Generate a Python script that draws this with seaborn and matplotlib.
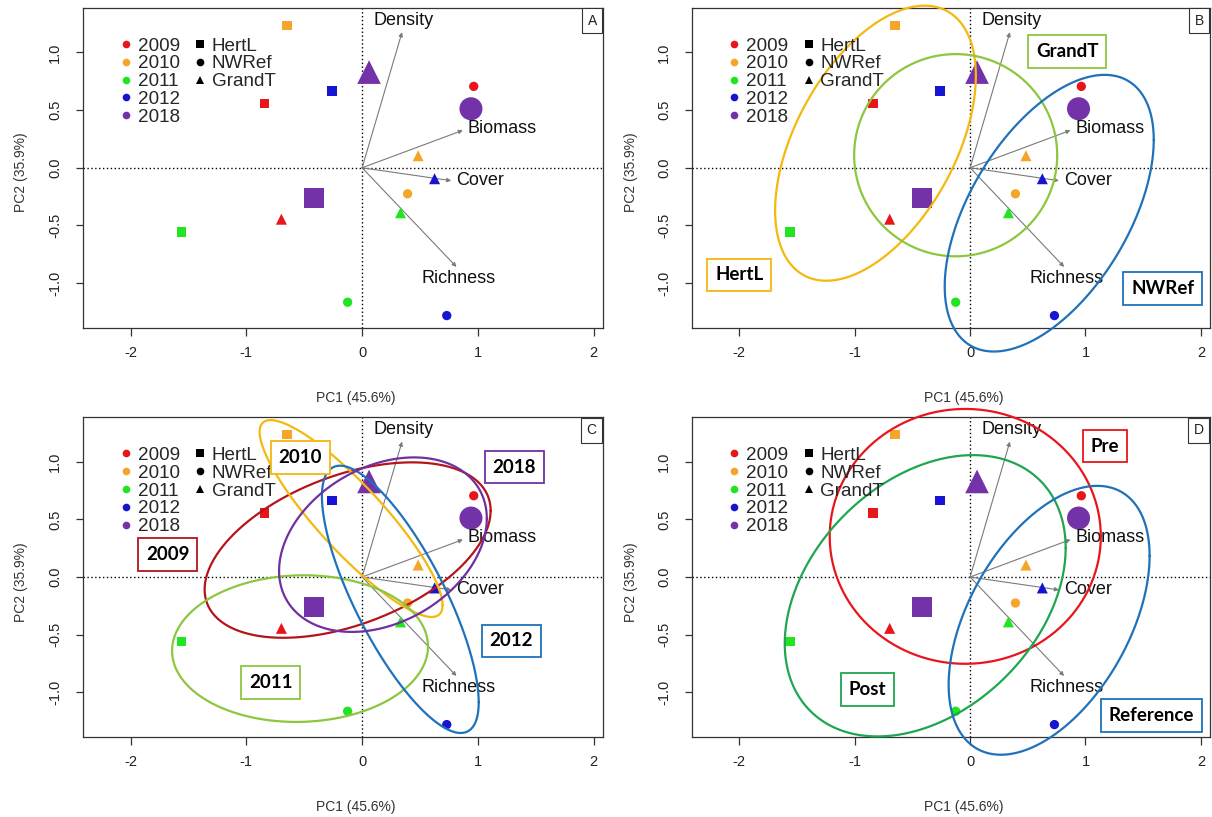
import numpy as np
import pandas as pd
import matplotlib
matplotlib.use("Agg")
import matplotlib.pyplot as plt
from matplotlib.lines import Line2D
import seaborn as sns

sns.set_theme(style="white")
plt.rcParams["font.family"] = ["Liberation Sans", "DejaVu Sans"]
plt.rcParams["axes.unicode_minus"] = False

# ---- PCA site scores -------------------------------------------------------
sites = ["HertL", "NWRef", "GrandT"]
years = ["2009", "2010", "2011", "2012", "2018"]

site_col = ["HertL"] * 5 + ["NWRef"] * 5 + ["GrandT"] * 5
year_col = years * 3
pc1 = [-0.843, -0.650, -1.560, -0.260, -0.413,
       0.964, 0.393, -0.125, 0.731, 0.940,
       -0.697, 0.484, 0.332, 0.626, 0.060]
pc2 = [0.556, 1.236, -0.559, 0.666, -0.263,
       0.706, -0.226, -1.166, -1.282, 0.512,
       -0.446, 0.104, -0.390, -0.095, 0.830]

# ---- variable loadings (arrows) -------------------------------------------
variables = ["Density", "Biomass", "Cover", "Richness"]
load1 = [0.345, 0.870, 0.770, 0.815]
load2 = [1.176, 0.325, -0.112, -0.860]

# ---- group ellipses: centre, half extent in x / y, correlation ------------
site_groups = ["HertL", "GrandT", "NWRef"]
site_ell_cx = [-0.820, -0.125, 0.686]
site_ell_cy = [0.213, 0.109, -0.394]
site_ell_hx = [0.870, 0.880, 0.906]
site_ell_hy = [1.193, 0.877, 1.200]
site_ell_rho = [0.49, 0.00, 0.53]
site_lab_x = [-2.00, 0.84, 1.67]
site_lab_y = [-0.93, 1.01, -1.05]

year_groups = ["2009", "2010", "2011", "2012", "2018"]
year_ell_cx = [-0.125, -0.095, -0.536, 0.330, 0.180]
year_ell_cy = [0.234, 0.508, -0.622, -0.194, 0.281]
year_ell_hx = [1.235, 0.790, 1.105, 0.677, 0.897]
year_ell_hy = [0.762, 0.855, 0.637, 1.161, 0.758]
year_ell_rho = [0.45, -0.88, 0.03, -0.77, 0.30]
year_lab_x = [-1.68, -0.535, -0.79, 1.29, 1.313]
year_lab_y = [0.197, 1.035, -0.916, -0.555, 0.955]

phase_groups = ["Pre", "Post", "Reference"]
phase_ell_cx = [-0.042, -0.389, 0.685]
phase_ell_cy = [0.353, -0.163, -0.376]
phase_ell_hx = [1.175, 1.2175, 0.871]
phase_ell_hy = [1.107, 1.222, 1.168]
phase_ell_rho = [0.00, 0.34, 0.48]
phase_lab_x = [1.17, -0.89, 1.57]
phase_lab_y = [1.137, -0.975, -1.20]

# ---- styling ---------------------------------------------------------------
year_palette = {"2009": "#E8161B", "2010": "#F4A52A", "2011": "#22E522",
                "2012": "#1414D2", "2018": "#7432A8"}
site_markers = {"HertL": "s", "NWRef": "o", "GrandT": "^"}
small_size = {"HertL": 47, "NWRef": 45, "GrandT": 63}
big_size = {"HertL": 207, "NWRef": 275, "GrandT": 290}

site_ell_colors = ["#F5B80F", "#8DC63F", "#1F72BA"]
year_ell_colors = ["#B3151B", "#F5B80F", "#8DC63F", "#1F72BA", "#7030A0"]
phase_ell_colors = ["#E8161B", "#1EA650", "#1F72BA"]

df = pd.DataFrame({"site": site_col, "year": year_col, "pc1": pc1, "pc2": pc2})
df["msize"] = [big_size[s] if y == "2018" else small_size[s]
               for s, y in zip(df["site"], df["year"])]

XLIM = (-2.41, 2.08)
YLIM = (-1.39, 1.39)
T = np.linspace(0, 2 * np.pi, 400)

fig = plt.figure(figsize=(12.12, 8.17), dpi=100)
fig.patch.set_facecolor("white")
positions = {
    "A": [0.0685, 0.5985, 0.4290, 0.3923],
    "B": [0.5710, 0.5985, 0.4274, 0.3923],
    "C": [0.0685, 0.0979, 0.4290, 0.3917],
    "D": [0.5710, 0.0979, 0.4274, 0.3917],
}
LEG_FONT = {"size": 13.6}


def base_panel(letter):
    ax = fig.add_axes(positions[letter])
    ax.set_xlim(*XLIM)
    ax.set_ylim(*YLIM)
    ax.axhline(0, color="black", lw=1.0, ls=(0, (1, 1.8)), zorder=1)
    ax.axvline(0, color="black", lw=1.0, ls=(0, (1, 1.8)), zorder=1)

    sns.scatterplot(data=df, x="pc1", y="pc2", hue="year", palette=year_palette,
                    style="site", markers=site_markers, size="msize",
                    sizes={v: v for v in df["msize"].unique()},
                    edgecolor="none", linewidth=0, legend=False, ax=ax, zorder=3)

    # loadings
    for name, lx, ly in zip(variables, load1, load2):
        ax.annotate("", xy=(lx, ly), xytext=(0, 0),
                    arrowprops=dict(arrowstyle="-|>", color="#7A7A7A", lw=0.8,
                                    mutation_scale=6, shrinkA=0, shrinkB=0),
                    zorder=2)
    offsets = {"Density": (1, 8.4, "center"), "Biomass": (3.5, 1.2, "left"),
               "Cover": (3.5, 0.0, "left"), "Richness": (1.5, -8.4, "center")}
    for name, lx, ly in zip(variables, load1, load2):
        dx, dy, ha = offsets[name]
        ax.annotate(name, xy=(lx, ly), xytext=(dx, dy), textcoords="offset points",
                    ha=ha, va="center", fontsize=13, color="#111111", zorder=4)

    ax.set_xticks([-2, -1, 0, 1, 2])
    ax.set_xticklabels(["-2", "-1", "0", "1", "2"])
    ax.set_yticks([-1.0, -0.5, 0.0, 0.5, 1.0])
    ax.set_yticklabels(["-1.0", "-0.5", "0.0", "0.5", "1.0"])
    ax.tick_params(axis="both", direction="out", length=5.4, width=0.9,
                   color="#333333", labelsize=10.5, labelcolor="#222222", pad=7.5,
                   bottom=True, left=True)
    ax.tick_params(axis="y", pad=9.5)
    for lab in ax.get_yticklabels():
        lab.set_rotation(90)
        lab.set_va("center")
    for sp in ax.spines.values():
        sp.set_color("#333333")
        sp.set_linewidth(0.9)

    ax.set_xlabel("PC1 (45.6%)", fontsize=10, color="#333333")
    ax.set_ylabel("PC2 (35.9%)", fontsize=10, color="#333333")
    ax.xaxis.set_label_coords(0.525, -0.198)
    ax.yaxis.set_label_coords(-0.105, 0.485)

    # legends
    yh = [Line2D([], [], ls="", marker="o", ms=5.5, mfc=year_palette[y],
                 mec=year_palette[y], mew=0) for y in years]
    leg1 = ax.legend(yh, years, loc="upper left", bbox_to_anchor=(0.071, 0.907),
                     frameon=False, prop=LEG_FONT, handlelength=0.6,
                     handletextpad=0.33, labelspacing=0.03, borderpad=0,
                     borderaxespad=0)
    ax.add_artist(leg1)
    sh = [Line2D([], [], ls="", marker=site_markers[s], ms=5.5, mfc="black",
                 mec="black", mew=0) for s in sites]
    ax.legend(sh, sites, loc="upper left", bbox_to_anchor=(0.214, 0.907),
              frameon=False, prop=LEG_FONT, handlelength=0.6,
              handletextpad=0.33, labelspacing=0.03, borderpad=0,
              borderaxespad=0)

    ax.annotate(letter, xy=(1, 1), xycoords="axes fraction", xytext=(-4.5, -4.5),
                textcoords="offset points", ha="right", va="top", fontsize=10,
                color="#222222",
                bbox=dict(boxstyle="square,pad=0.4", fc="white", ec="#333333", lw=0.8),
                zorder=7)
    return ax


def draw_groups(ax, names, cx, cy, hx, hy, rho, lx, ly, colors):
    for n, x0, y0, ax_, ay_, r, tx, ty, c in zip(names, cx, cy, hx, hy, rho, lx, ly, colors):
        ex = x0 + ax_ * np.cos(T)
        ey = y0 + ay_ * (r * np.cos(T) + np.sqrt(1 - r ** 2) * np.sin(T))
        ax.plot(ex, ey, color=c, lw=1.6, clip_on=False, zorder=5)
        ax.text(tx, ty, n, ha="center", va="center", fontsize=13.5, fontweight="bold",
                family=["Lato", "DejaVu Sans"], color="black", zorder=6,
                bbox=dict(boxstyle="square,pad=0.42", fc="white", ec=c, lw=1.3))


axA = base_panel("A")
axB = base_panel("B")
draw_groups(axB, site_groups, site_ell_cx, site_ell_cy, site_ell_hx, site_ell_hy,
            site_ell_rho, site_lab_x, site_lab_y, site_ell_colors)
axC = base_panel("C")
draw_groups(axC, year_groups, year_ell_cx, year_ell_cy, year_ell_hx, year_ell_hy,
            year_ell_rho, year_lab_x, year_lab_y, year_ell_colors)
axD = base_panel("D")
draw_groups(axD, phase_groups, phase_ell_cx, phase_ell_cy, phase_ell_hx, phase_ell_hy,
            phase_ell_rho, phase_lab_x, phase_lab_y, phase_ell_colors)

fig.savefig("out.png", dpi=100, facecolor="white")
